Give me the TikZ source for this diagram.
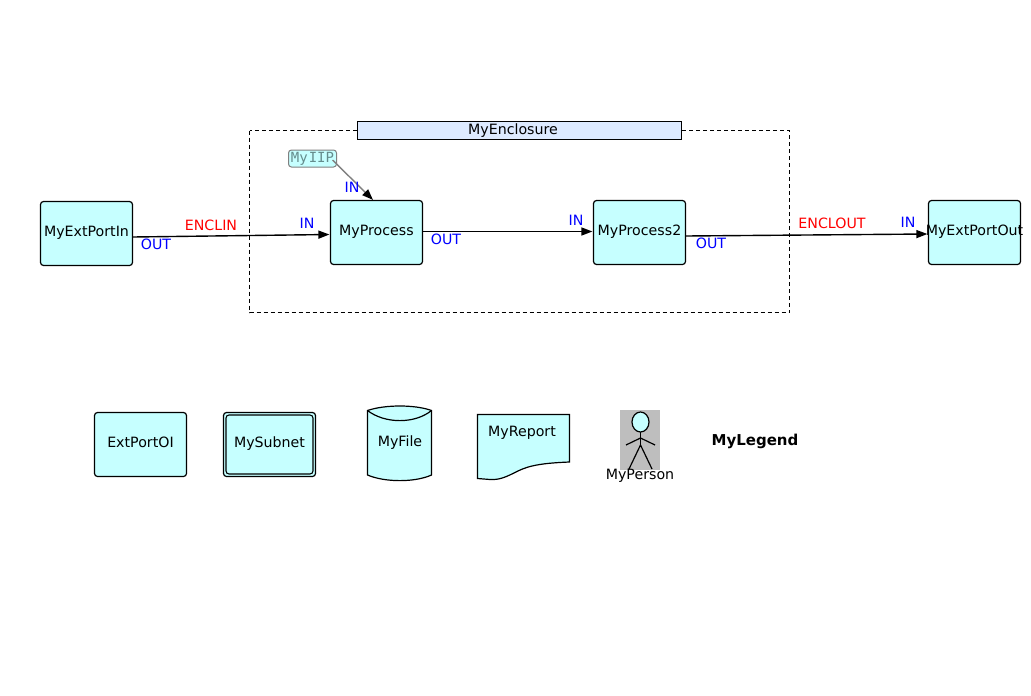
\documentclass[tikz,border=0pt]{standalone}
\usepackage{fontspec}
\setmainfont{DejaVu Sans}
\newfontfamily\iipfont{DejaVu Sans Mono}
\usetikzlibrary{arrows.meta,calc}
\definecolor{blockfill}{RGB}{198,255,255}
\definecolor{encfill}{RGB}{221,234,255}
\definecolor{iiptext}{RGB}{100,140,140}
\definecolor{personbg}{RGB}{190,190,190}
\newcommand{\uptext}[1]{\raisebox{4pt}{\makebox[0pt]{#1}}}
\tikzset{
  basefont/.style={font=\fontsize{14.2}{16}\selectfont},
  block/.style={draw=black,fill=blockfill,rounded corners=3pt,line width=1.2pt,minimum width=92pt,minimum height=64pt,inner sep=0pt,basefont,text=black},
  shapeline/.style={draw=black,fill=blockfill,line width=1.2pt},
  conn/.style={draw=black,line width=1.4pt,-{Triangle[length=11pt,width=8pt]}},
  portlbl/.style={basefont,text=blue,inner sep=0pt},
  enclbl/.style={basefont,text=red,inner sep=0pt},
  plain/.style={basefont,text=black,inner sep=0pt}
}
\begin{document}
\begin{tikzpicture}[x=1pt,y=-1pt]
\useasboundingbox (0,0) rectangle (1031,696);
\fill[white] (0,0) rectangle (1031,696);
% enclosure
\coordinate (enctl) at (249.5,130.5);
\coordinate (encbr) at (789.5,312.5);
\draw[black,line width=0.9pt,dash pattern=on 4pt off 3pt] (enctl) rectangle (encbr);
\node[draw=black,fill=encfill,line width=1.7pt,minimum width=324pt,minimum height=18pt,inner sep=0pt,basefont] (enc) at (519.5,130.5) {\hspace*{-13pt}MyEnclosure};
% main blocks
\node[block] (extin) at (86.5,233.5) {\uptext{MyExtPortIn}};
\node[block] (proc) at (376.5,232.5) {\uptext{MyProcess}};
\node[block] (proc2) at (639.5,232.5) {\uptext{MyProcess2}};
\node[block] (extout) at (974.5,232.5) {\uptext{MyExtPortOut}};
% IIP
\node[draw=black!50,fill=blockfill,rounded corners=3pt,line width=1pt,minimum width=48pt,minimum height=17pt,inner sep=0pt,text=iiptext,font=\iipfont\fontsize{14}{15}\selectfont] (iip) at (312.5,158.5) {My\hspace{1pt}IIP};
% connectors
\draw[conn] ([yshift=-3.5pt]extin.east) -- ([xshift=-0.5pt,yshift=-2pt]proc.west);
\draw[conn] ([yshift=1pt]proc.east) -- ([xshift=-0.5pt,yshift=1pt]proc2.west);
\draw[conn] ([yshift=-3.5pt]proc2.east) -- ([xshift=-0.5pt,yshift=-1.5pt]extout.west);
\draw[draw=black!50,line width=1.4pt,-{Triangle[length=11pt,width=8pt,fill=black,color=black]}] ([xshift=20pt,yshift=-1.5pt]iip.center) -- ([xshift=-3.5pt]proc.north);
% connector labels
\node[enclbl] (l1) at (211,225.5) {ENCLIN};
\node[portlbl] (l2) at (156,244.5) {OUT};
\node[portlbl] (l3) at (307,223.5) {IN};
\node[portlbl] (l4) at (352,187.5) {IN};
\node[portlbl] (l5) at (446,239.5) {OUT};
\node[portlbl] (l6) at (576,220.5) {IN};
\node[portlbl] (l7) at (711,243.5) {OUT};
\node[enclbl] (l8) at (832,223.5) {ENCLOUT};
\node[portlbl] (l9) at (908,222.5) {IN};
% legend
\node[block] (oi) at (140.5,444.5) {\uptext{ExtPortOI}};
\node[block] (sub) at (269.5,444.5) {\uptext{MySubnet}};
\draw[black,line width=1.1pt,rounded corners=3pt] (226,415) rectangle (313,474);
% file
\path[shapeline] (367.5,410.5) .. controls (385,404.5) and (415,404.5) .. (431.5,410.5) -- (431.5,475) .. controls (415,482.5) and (385,482.5) .. (367.5,475) -- cycle;
\draw[black,line width=1.2pt] (367.5,410.5) .. controls (385,424) and (415,424) .. (431.5,410.5);
\node[plain] (fl) at (400,442.5) {MyFile};
% report
\path[shapeline] (477.5,414.5) -- (569.5,414.5) -- (569.5,462) .. controls (545,463) and (530,465) .. (518,471) .. controls (506,477) and (500,480) .. (490,479.5) -- (477.5,478.5) -- cycle;
\node[plain] (rp) at (522,432.5) {MyReport};
% person
\fill[personbg] (620,410) rectangle (660,470);
\draw[shapeline] (640.5,422) ellipse[x radius=8.5pt,y radius=10pt];
\draw[black,line width=1.2pt] (640.5,432) -- (640.5,446);
\draw[black,line width=1.2pt] (626,445) -- (640.5,438) -- (655,445);
\draw[black,line width=1.2pt] (629,469) -- (640.5,445) -- (652,469);
\node[plain] (pn) at (640,475.5) {MyPerson};
\node[font=\fontsize{15}{17}\selectfont\bfseries,inner sep=0pt] (lg) at (755,441) {MyLegend};
\end{tikzpicture}
\end{document}
